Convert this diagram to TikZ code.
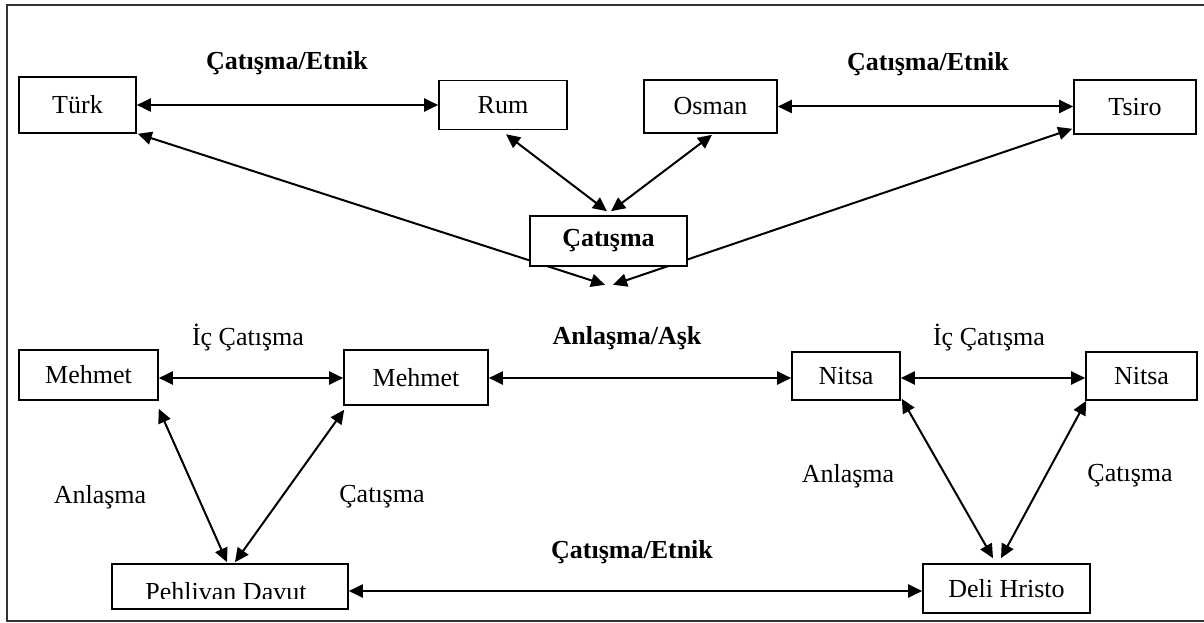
\documentclass[tikz,border=0pt]{standalone}
\usepackage{fontspec}
\setmainfont{Liberation Serif}
\usetikzlibrary{arrows.meta,calc,backgrounds}
\begin{document}
\begin{tikzpicture}[x=1pt,y=-1pt,
  box/.style={draw, line width=1.6pt, fill=white, inner sep=0pt, font=\fontsize{26}{30}\selectfont},
  lbl/.style={inner sep=0pt, font=\fontsize{26}{30}\selectfont},
  blbl/.style={inner sep=0pt, font=\fontsize{26}{30}\selectfont\bfseries},
  arr/.style={line width=2pt, {Triangle[length=14pt,width=13pt]}-{Triangle[length=14pt,width=13pt]}},
  frame/.style={line width=1.6pt, draw=black!80}
]
\useasboundingbox (0,0) rectangle (1204,623);
% frame (right edge lies outside the picture)
\draw[frame] (1210,5) -- (7,5) -- (7,621) -- (1210,621);

% top row
\node[box, minimum width=117pt, minimum height=56pt] (turk) at (77.5,105) {Türk};
\node[box, minimum width=128pt, minimum height=49pt] (rum) at (503,105) {Rum};
\node[box, minimum width=133pt, minimum height=53pt] (osman) at (710.5,106.5) {Osman};
\node[box, minimum width=122pt, minimum height=54pt] (tsiro) at (1135,107) {Tsiro};
\node[box, minimum width=157pt, minimum height=50pt, font=\fontsize{26}{30}\selectfont\bfseries] (cat) at (608.5,241) {Çatışma};

% middle row
\node[box, minimum width=139pt, minimum height=50pt] (mL) at (88.5,375) {Mehmet};
\node[box, minimum width=144pt, minimum height=55pt] (mR) at (416,377.5) {Mehmet};
\node[box, minimum width=108pt, minimum height=48pt] (nL) at (846,376) {Nitsa};
\node[box, minimum width=111pt, minimum height=48pt] (nR) at (1141.5,376) {Nitsa};

% bottom row
\node[box, minimum width=236pt, minimum height=45pt] (pd) at (230,586.5) {};
\begin{scope}
  \clip (112,560) rectangle (348,598);
  \node[lbl, anchor=base] (pdt) at (226,600) {Pehlivan Davut};
\end{scope}
\node[box, minimum width=167pt, minimum height=49pt] (dh) at (1006.5,588.5) {Deli Hristo};

% labels
\node[blbl] (t1) at (287,63) {Çatışma/Etnik};
\node[blbl] (t2) at (928,64) {Çatışma/Etnik};
\node[lbl] (icL) at (248,338) {İç Çatışma};
\node[blbl] (ask) at (627,338) {Anlaşma/Aşk};
\node[lbl] (icR) at (989,338) {İç Çatışma};
\node[lbl] (anL) at (100,497) {Anlaşma};
\node[lbl] (caL) at (382,497) {Çatışma};
\node[lbl] (anR) at (848,476) {Anlaşma};
\node[lbl] (caR) at (1130,476) {Çatışma};
\node[blbl] (t3) at (632,552) {Çatışma/Etnik};

% connectors
\draw[arr] (turk.east) -- (rum.west);
\draw[arr] (osman.east) -- ($(tsiro.west)+(0,-0.5)$);
\draw[arr] ($(rum.south)+(3,4)$) -- ($(cat.north)+(-1.5,-4)$);
\draw[arr] ($(osman.south)+(1.5,1)$) -- ($(cat.north)+(2.5,-4)$);
\begin{scope}[on background layer]
  \draw[arr] ($(turk.south east)+(1,0)$) -- ($(cat.south)+(-3.5,18)$);
  \draw[arr] ($(tsiro.south west)+(-1,-6)$) -- ($(cat.south)+(4.5,18)$);
\end{scope}
\draw[arr] ($(mL.east)+(0,3)$) -- ($(mR.west)+(0,0.5)$);
\draw[arr] ($(mR.east)+(0,0.5)$) -- ($(nL.west)+(0,2)$);
\draw[arr] ($(nL.east)+(0,2)$) -- ($(nR.west)+(0,2)$);
\draw[arr] ($(pd.east)+(0,4.5)$) -- ($(dh.west)+(0,2.5)$);
\draw[arr] ($(mL.south east)+(0,8)$) -- ($(pd.north)+(-3,-1)$);
\draw[arr] ($(mR.south west)+(1,4)$) -- ($(pd.north)+(5,-1)$);
\draw[arr] ($(nL.south east)+(1,-2)$) -- ($(dh.north)+(-13.5,-5)$);
\draw[arr] ($(nR.south west)+(1,0)$) -- ($(dh.north)+(-5.5,-5)$);
\end{tikzpicture}
\end{document}
